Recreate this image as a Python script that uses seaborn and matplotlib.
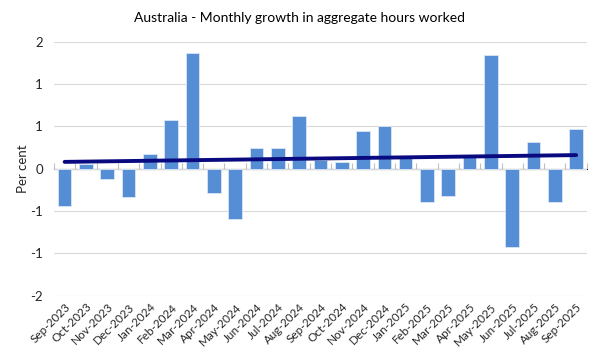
import numpy as np
import pandas as pd
import seaborn as sns
import matplotlib.pyplot as plt
from matplotlib.ticker import FuncFormatter, MultipleLocator

# Data
months = ['Sep-2023', 'Oct-2023', 'Nov-2023', 'Dec-2023', 'Jan-2024', 'Feb-2024',
          'Mar-2024', 'Apr-2024', 'May-2024', 'Jun-2024', 'Jul-2024', 'Aug-2024',
          'Sep-2024', 'Oct-2024', 'Nov-2024', 'Dec-2024', 'Jan-2025', 'Feb-2025',
          'Mar-2025', 'Apr-2025', 'May-2025', 'Jun-2025', 'Jul-2025', 'Aug-2025',
          'Sep-2025']
growth = [-0.44, 0.06, -0.12, -0.34, 0.17, 0.57, 1.37, -0.29, -0.60, 0.25, 0.25, 0.62,
          0.10, 0.08, 0.45, 0.50, 0.14, -0.39, -0.32, 0.14, 1.34, -0.93, 0.32, -0.39,
          0.47]

df = pd.DataFrame({'month': months, 'growth': growth, 'idx': np.arange(len(months))})

sns.set_style('white')
plt.rcParams['font.family'] = ['Lato', 'DejaVu Sans']

fig = plt.figure(figsize=(6, 3.61), dpi=100)
ax = fig.add_axes([0.09, 0.181, 0.888, 0.7035])

sns.barplot(data=df, x='month', y='growth', color='#558ED5', saturation=1,
            width=0.64, edgecolor='#dbe6f4', linewidth=0.6, ax=ax, zorder=2)

# linear trend line
sns.regplot(data=df, x='idx', y='growth', scatter=False, ci=None, truncate=True,
            line_kws={'color': '#0a0a80', 'linewidth': 2.8, 'zorder': 3}, ax=ax)

ax.set_xlim(-0.5, len(months) - 0.5)
ax.set_ylim(-1.5, 1.5)
ax.yaxis.set_major_locator(MultipleLocator(0.5))


def excel_round(v, pos):
    r = int(np.sign(v) * np.floor(abs(v) + 0.5))
    return str(r)


ax.yaxis.set_major_formatter(FuncFormatter(excel_round))
ax.grid(axis='y', color='#d9d9d9', linewidth=0.8, zorder=0)
ax.set_axisbelow(True)

for s in ax.spines.values():
    s.set_visible(False)

ax.set_xticks(range(len(months)))
ax.set_xticklabels(months, rotation=45, ha='right', rotation_mode='anchor',
                   fontsize=8.5, color='#262626')
ax.tick_params(axis='x', length=0, pad=4)
ax.tick_params(axis='y', length=0, pad=8, labelsize=9.5, labelcolor='#262626')
ax.set_xlabel('')
ax.set_ylabel('Per cent', fontsize=9.5, color='#262626', labelpad=1)

# zero axis line with boundary ticks
zax = ax.secondary_xaxis(0.5)
zax.spines['bottom'].set_color('#bfbfbf')
zax.spines['bottom'].set_linewidth(0.8)
zax.set_xticks(np.arange(len(months) + 1) - 0.5)
zax.set_xticklabels([])
zax.tick_params(axis='x', length=4, width=0.8, color='#bfbfbf', direction='out')

fig.text(0.5, 0.95, 'Australia - Monthly growth in aggregate hours worked',
         ha='center', va='center', fontsize=10, color='#000000')

fig.savefig('out.png', dpi=100)
